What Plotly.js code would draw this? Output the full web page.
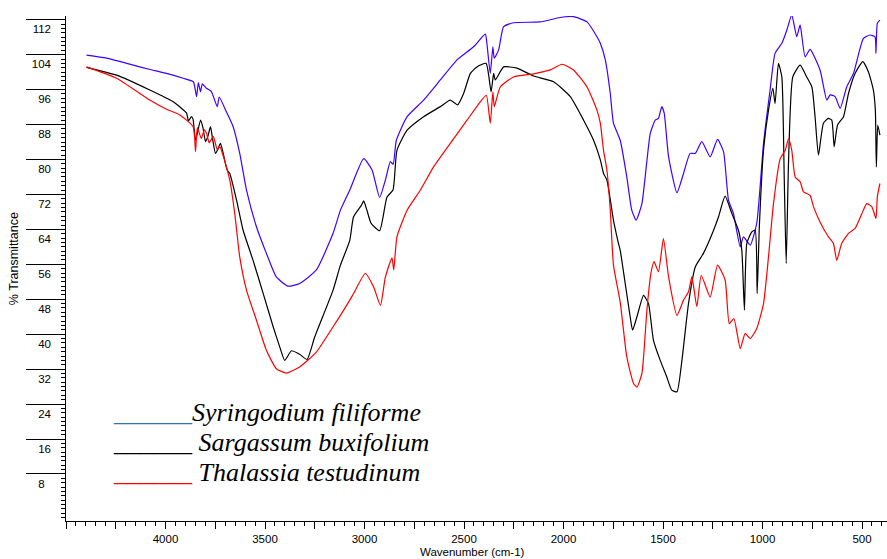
<!DOCTYPE html>
<html><head><meta charset="utf-8">
<script src="https://cdn.plot.ly/plotly-3.0.1.min.js"></script>
<style>html,body{margin:0;padding:0;background:#fff;}#chart{width:887px;height:559px;}</style>
</head><body><div id="chart"></div>
<script>
// ---- data (wavenumber cm-1, % transmittance) ----
const wnSyringodium = [4397,4296,4162,4077,3995,3911,3860,3844,3835,3824,3815,3794,3770,3740,3730,3694,3660,3627,3593,3543,3493,3443,3384,3326,3242,3158,3121,3074,3004,2962,2924,2895,2870,2856,2840,2786,2703,2619,2535,2452,2393,2385,2368,2355,2348,2326,2301,2251,2117,2017,1950,1882,1832,1815,1790,1765,1749,1715,1682,1657,1635,1606,1564,1539,1523,1506,1494,1472,1430,1397,1364,1338,1305,1263,1226,1196,1171,1146,1112,1096,1062,1029,995,962,937,903,878,853,828,811,786,761,711,677,660,635,610,577,543,493,460,435,430,423,410];
const tSyringodium = [106.1,105.4,103.8,102.8,101.9,100.8,100.0,96.6,99.8,97.7,99.5,98.5,97.8,94.3,96.5,93.1,89.7,83.6,75.2,66.8,60.7,55.3,53.2,53.8,56.9,65.3,70.6,75.2,82.4,79.8,73.5,77.5,81.7,81.1,86.6,92.0,95.8,100.4,105.0,108.0,110.9,108.8,101.9,108.0,105.4,107.3,112.6,113.5,113.7,114.7,114.9,113.7,110.3,108.8,105.0,97.3,90.5,86.6,78.2,70.6,68.3,72.1,88.2,91.2,91.6,94.3,92.8,82.8,74.6,79.0,83.6,83.6,86.3,82.8,86.8,84.0,72.9,69.8,62.2,64.5,62.6,67.6,85.9,98.1,106.5,108.8,111.8,115.3,110.3,113.0,105.7,107.4,102.7,95.8,97.0,96.6,93.9,98.8,101.9,109.9,110.7,110.3,106.5,113.4,114.1];

const wnSargassum = [4397,4246,4079,3961,3894,3885,3870,3862,3849,3824,3812,3799,3787,3774,3762,3749,3737,3724,3710,3700,3690,3677,3643,3610,3560,3509,3459,3426,3401,3367,3326,3289,3250,3158,3121,3074,3055,3016,3004,2988,2967,2924,2887,2857,2837,2786,2703,2619,2569,2532,2502,2468,2435,2389,2364,2351,2343,2301,2234,2150,2050,1966,1899,1849,1815,1799,1782,1749,1724,1715,1690,1665,1653,1631,1598,1573,1548,1514,1481,1456,1430,1405,1372,1338,1297,1246,1221,1188,1154,1121,1104,1091,1079,1054,1037,1027,1016,995,970,948,937,920,903,891,881,869,848,811,778,752,736,719,694,669,652,640,623,593,568,535,496,468,443,433,428,421,410];
const tSargassum = [103.3,101.5,98.1,95.4,92.8,91.0,92.0,91.5,86.6,91.2,89.5,86.3,87.5,89.7,86.5,83.6,84.5,85.9,83.6,81.5,79.8,79.0,72.9,66.0,59.1,51.5,43.9,39.3,36.2,38.4,37.6,36.4,41.6,52.3,58.0,63.7,69.1,71.7,72.7,70.6,67.6,65.9,73.6,75.2,84.3,88.9,92.0,94.3,95.8,94.7,97.3,101.9,103.4,104.2,97.7,101.9,100.4,103.4,103.1,101.3,100.0,96.6,91.2,86.6,82.1,79.0,77.5,68.3,63.0,61.4,53.8,46.2,43.1,46.2,51.1,49.2,40.8,36.2,32.4,29.4,29.0,36.2,49.2,57.6,60.7,66.0,69.1,73.8,69.8,66.0,61.4,47.7,63.0,65.6,66.0,51.5,66.8,84.3,93.5,98.5,95.0,104.2,101.1,78.2,58.4,82.1,101.1,103.8,101.1,98.8,92.0,83.2,90.5,91.6,91.2,85.1,90.1,92.0,97.3,101.9,104.6,102.3,98.1,93.5,80.5,90.1,87.8];

const wnThalassia = [4397,4246,4079,3995,3928,3861,3849,3840,3820,3805,3794,3780,3760,3740,3727,3677,3652,3627,3593,3543,3493,3443,3392,3326,3242,3158,3121,3074,3055,2996,2954,2920,2895,2862,2853,2837,2786,2719,2653,2569,2485,2418,2388,2368,2355,2348,2318,2251,2150,2067,2008,1950,1882,1832,1815,1799,1782,1765,1749,1715,1682,1648,1631,1606,1581,1561,1545,1523,1498,1472,1430,1397,1372,1355,1330,1308,1263,1226,1188,1167,1144,1112,1087,1062,1029,995,970,945,911,886,869,853,836,811,794,761,744,711,669,644,627,602,568,535,501,476,451,430,423,410];
const tThalassia = [103.4,100.8,95.8,93.7,92.4,89.7,84.0,89.5,87.0,89.0,88.2,86.0,87.5,84.5,85.1,77.5,69.8,59.9,52.3,45.4,38.5,34.3,33.3,34.7,38.1,43.9,46.5,50.0,51.5,56.1,53.0,48.8,55.3,59.7,56.9,64.5,70.6,75.2,80.5,85.9,91.2,95.4,96.9,90.5,97.7,94.3,98.8,101.1,101.8,102.7,104.0,102.7,98.8,93.5,90.5,84.3,79.8,70.6,58.0,49.5,37.0,30.9,30.1,33.2,47.7,56.1,58.8,56.5,64.1,55.3,46.5,50.0,51.9,55.3,48.5,55.7,50.7,58.0,54.6,44.6,45.8,38.9,42.4,41.2,43.5,49.2,59.9,72.1,82.4,84.3,87.0,84.3,78.2,77.1,74.8,74.0,71.4,67.9,64.5,63.0,59.1,63.0,65.3,66.4,69.8,72.1,71.4,68.7,73.7,76.7];

const seriesNames = ['Syringodium filiforme', 'Sargassum buxifolium', 'Thalassia testudinum'];
const lineColors = ['#4000ff', '#000000', '#ff0000'];
const legendColors = ['#2e75b6', '#000000', '#ff0000'];

const xTickVals = [4500,4250,4000,3750,3500,3250,3000,2750,2500,2250,2000,1750,1500,1250,1000,750,500];
const xTickText = ['','','4000','','3500','','3000','','2500','','2000','','1500','','1000','','500'];
const yTickVals = [8,16,24,32,40,48,56,64,72,80,88,96,104,112];
const yTickText = ['8\u2007','16','24','32','40','48','56','64','72','80','88','96','104','112'];

const xTitle = 'Wavenumber (cm-1)';
const yTitle = '% Transmittance';

// ---- figure ----
const xs = [wnSyringodium, wnSargassum, wnThalassia];
const ys = [tSyringodium, tSargassum, tThalassia];
const traces = xs.map((x, i) => ({
  x: x, y: ys[i], name: seriesNames[i], type: 'scatter', mode: 'lines',
  line: {color: lineColors[i], width: 1.2, shape: 'spline', smoothing: 0.5},
  hoverinfo: 'skip', showlegend: false, xaxis: 'x', yaxis: 'y'
}));
traces.push({x: [], y: [], type: 'scatter', mode: 'lines', xaxis: 'x', yaxis: 'y2', showlegend: false, hoverinfo: 'skip'});

const yRange = [-0.57, 115.05];
const tickFont = {family: 'Liberation Sans, Arial, sans-serif', size: 11.5, color: '#000'};
const L = 66, R = 887, T = 16, B = 520.7;
const px2x = p => (p - L) / (R - L);
const px2y = p => 1 - (p - T) / (B - T);

const legendTop = [412, 442, 472];
const gaps = ['', ' ', ' '];
const annotations = seriesNames.map((n, i) => ({
  xref: 'paper', yref: 'paper', x: px2x(111), y: px2y(legendTop[i]),
  xanchor: 'left', yanchor: 'middle', showarrow: false,
  text: '<span style="color:' + legendColors[i] + '">______</span>' + gaps[i] + '<i>' + n + '</i>',
  font: {family: 'Liberation Serif, Times New Roman, serif', size: 26, color: '#000'}
}));
annotations.push({xref: 'paper', yref: 'paper', x: px2x(472.5), y: px2y(551.5), xanchor: 'center', yanchor: 'middle',
  showarrow: false, text: xTitle, font: {family: 'Liberation Sans, Arial, sans-serif', size: 11.5, color: '#000'}});
annotations.push({xref: 'paper', yref: 'paper', x: px2x(14), y: px2y(259), xanchor: 'center', yanchor: 'middle',
  showarrow: false, textangle: -90, text: yTitle, font: {family: 'Liberation Sans, Arial, sans-serif', size: 12.5, color: '#000'}});

const layout = {
  width: 887, height: 559,
  margin: {l: L, r: 0, t: T, b: 559 - B},
  paper_bgcolor: '#fff', plot_bgcolor: '#fff',
  showlegend: false,
  xaxis: {
    range: [4500, 374.5], showline: true, linecolor: '#000', linewidth: 1,
    ticks: 'outside', ticklen: 7, tickwidth: 1, tickcolor: '#000',
    tickmode: 'array', tickvals: xTickVals, ticktext: xTickText,
    ticklabelstandoff: 0, tickfont: tickFont,
    showgrid: false, zeroline: false, fixedrange: true,
    minor: {tickmode: 'linear', tick0: 0, dtick: 50, ticks: 'outside', ticklen: 4, tickwidth: 1, tickcolor: '#000', showgrid: false}
  },
  yaxis: {
    range: yRange, showline: true, linecolor: '#000', linewidth: 1,
    ticks: 'outside', ticklen: 39, tickwidth: 1, tickcolor: '#000',
    tickmode: 'array', tickvals: yTickVals.map(v => v + 2.2), showticklabels: false,
    showgrid: false, zeroline: false, fixedrange: true,
    minor: {tickmode: 'linear', tick0: 0.2, dtick: 1, ticks: 'outside', ticklen: 4, tickwidth: 1, tickcolor: '#000', showgrid: false}
  },
  yaxis2: {
    range: yRange, overlaying: 'y', side: 'left', anchor: 'x', showline: false,
    ticks: '', tickmode: 'array', tickvals: yTickVals, ticktext: yTickText,
    ticklabelstandoff: 14, tickfont: tickFont,
    showgrid: false, zeroline: false, fixedrange: true
  },
  annotations: annotations
};

Plotly.newPlot('chart', traces, layout, {displayModeBar: false, staticPlot: true});
</script>
</body></html>
